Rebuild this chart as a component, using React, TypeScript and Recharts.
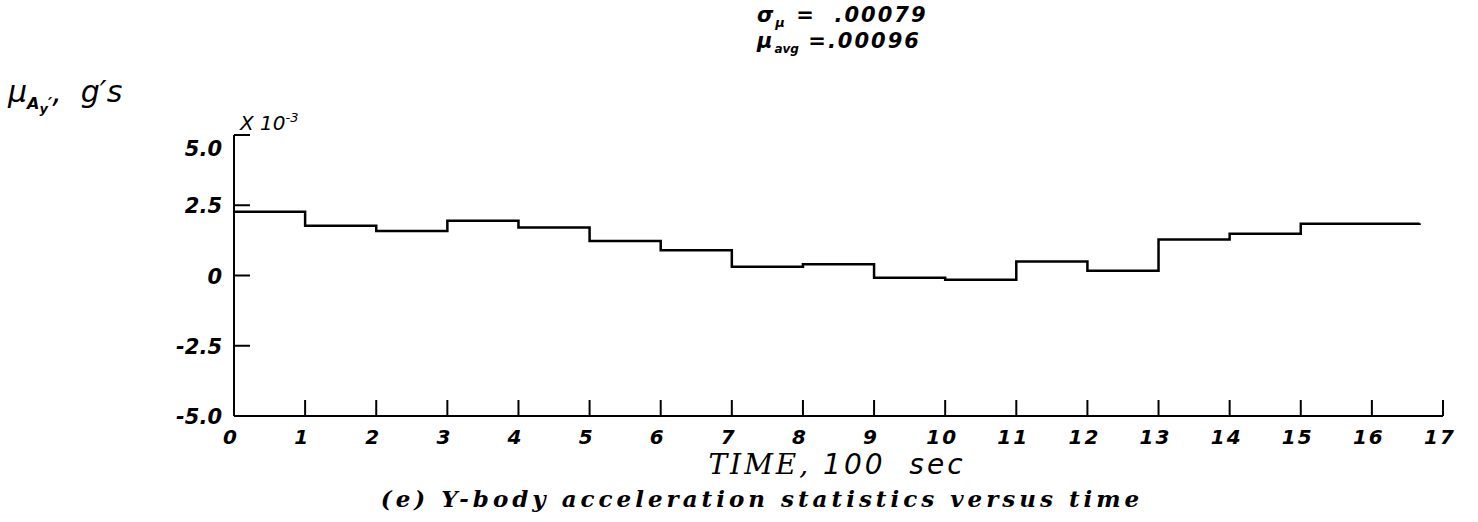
import React from 'react';
import { LineChart, Line, XAxis, YAxis } from 'recharts';

// time at the start of each 100 s interval (last point closes the final step)
const timeMarks = [0, 1, 2, 3, 4, 5, 6, 7, 8, 9, 10, 11, 12, 13, 14, 15, 16.67];
// mean Y-body acceleration per interval, x 10^-3 g
const muValues = [2.27, 1.77, 1.58, 1.95, 1.71, 1.23, 0.9, 0.31, 0.4, -0.08, -0.15, 0.5, 0.17, 1.28, 1.49, 1.84, 1.86];

const xTicks = [0, 1, 2, 3, 4, 5, 6, 7, 8, 9, 10, 11, 12, 13, 14, 15, 16, 17];
const yTicks = [-5, -2.5, 0, 2.5, 5];
const yTickLabels: Record<string, string> = { '-5': '-5.0', '-2.5': '-2.5', '0': '0', '2.5': '2.5', '5': '5.0' };

const sigmaText = '.00079';
const avgText = '.00096';

const data = timeMarks.map((t, i) => ({ t, mu: muValues[i] }));

const SANS = '"DejaVu Sans", Verdana, sans-serif';
const SERIF = '"DejaVu Serif", "Liberation Serif", serif';
const TICK_LEN = 16;
const MARGIN = 14;

const XTick = (props: any) => {
  const { x, y, payload } = props;
  const axisY = y - MARGIN;
  return (
    <g>
      <line x1={x} x2={x} y1={axisY} y2={axisY - TICK_LEN} stroke="#000" strokeWidth={2} />
      <text x={x - 3} y={y + 14} textAnchor="middle" fontFamily={SANS} fontStyle="italic" fontWeight="bold" fontSize={20} letterSpacing={2} fill="#000">
        {payload.value}
      </text>
    </g>
  );
};

const YTick = (props: any) => {
  const { x, y, payload } = props;
  const axisX = x + MARGIN;
  const dy = payload.value === 5 ? 13 : 0;
  return (
    <g>
      <line x1={axisX} x2={axisX + TICK_LEN} y1={y} y2={y} stroke="#000" strokeWidth={2} />
      <text x={x + 2} y={y + dy + 8} textAnchor="end" fontFamily={SANS} fontStyle="italic" fontWeight="bold" fontSize={21} fill="#000">
        {yTickLabels[String(payload.value)]}
      </text>
    </g>
  );
};

const txt: React.CSSProperties = { position: 'absolute', whiteSpace: 'nowrap', color: '#000', lineHeight: 1 };

export default function App() {
  return (
    <div style={{ position: 'relative', width: 1478, height: 522, background: '#fff' }}>
      <style>{'body{margin:0}'}</style>
      <LineChart width={1478} height={522} data={data} margin={{ top: 135, right: 35, bottom: 76, left: 174 }}>
        <XAxis
          dataKey="t"
          type="number"
          domain={[0, 17]}
          ticks={xTicks}
          interval={0}
          height={30}
          tickSize={0}
          tickMargin={MARGIN}
          tickLine={false}
          tick={<XTick />}
          axisLine={{ stroke: '#000', strokeWidth: 2 }}
        />
        <YAxis
          type="number"
          domain={[-5, 5]}
          ticks={yTicks}
          interval={0}
          width={60}
          tickSize={0}
          tickMargin={MARGIN}
          tickLine={false}
          tick={<YTick />}
          axisLine={{ stroke: '#000', strokeWidth: 2 }}
        />
        <Line type="stepAfter" dataKey="mu" stroke="#000" strokeWidth={2.5} dot={false} isAnimationActive={false} />
      </LineChart>

      <div style={{ ...txt, left: 757, top: 5, fontFamily: SANS, fontStyle: 'italic', fontWeight: 'bold', fontSize: 21, letterSpacing: 2 }}>
        σ<sub style={{ fontSize: 13 }}>μ</sub> =&nbsp;&nbsp;{sigmaText}
      </div>
      <div style={{ ...txt, left: 757, top: 31, fontFamily: SANS, fontStyle: 'italic', fontWeight: 'bold', fontSize: 21, letterSpacing: 2 }}>
        μ<sub style={{ fontSize: 12, letterSpacing: 0 }}>avg</sub> ={avgText}
      </div>

      <div style={{ ...txt, left: 8, top: 77, fontFamily: SANS, fontStyle: 'italic', fontSize: 30 }}>
        μ<sub style={{ fontSize: 16, fontWeight: 'bold' }}>A<sub style={{ fontSize: 13 }}>y</sub>′</sub>,&nbsp;&nbsp;g′s
      </div>
      <div style={{ ...txt, left: 240, top: 111, fontFamily: SANS, fontStyle: 'italic', fontSize: 20 }}>
        X 10<sup style={{ fontSize: 13 }}>-3</sup>
      </div>

      <div style={{ ...txt, left: 0, width: 1674, top: 451, textAlign: 'center', fontSize: 28, fontStyle: 'italic', letterSpacing: 3 }}>
        <span style={{ fontFamily: SERIF }}>TIME,</span>
        <span style={{ fontFamily: SANS }}>&nbsp;100&nbsp;&nbsp;sec</span>
      </div>
      <div style={{ ...txt, left: 0, width: 1524, top: 487, textAlign: 'center', fontSize: 23, fontStyle: 'italic', fontWeight: 'bold', fontFamily: SERIF, letterSpacing: 4 }}>
        (e) Y-body acceleration statistics versus time
      </div>
    </div>
  );
}
